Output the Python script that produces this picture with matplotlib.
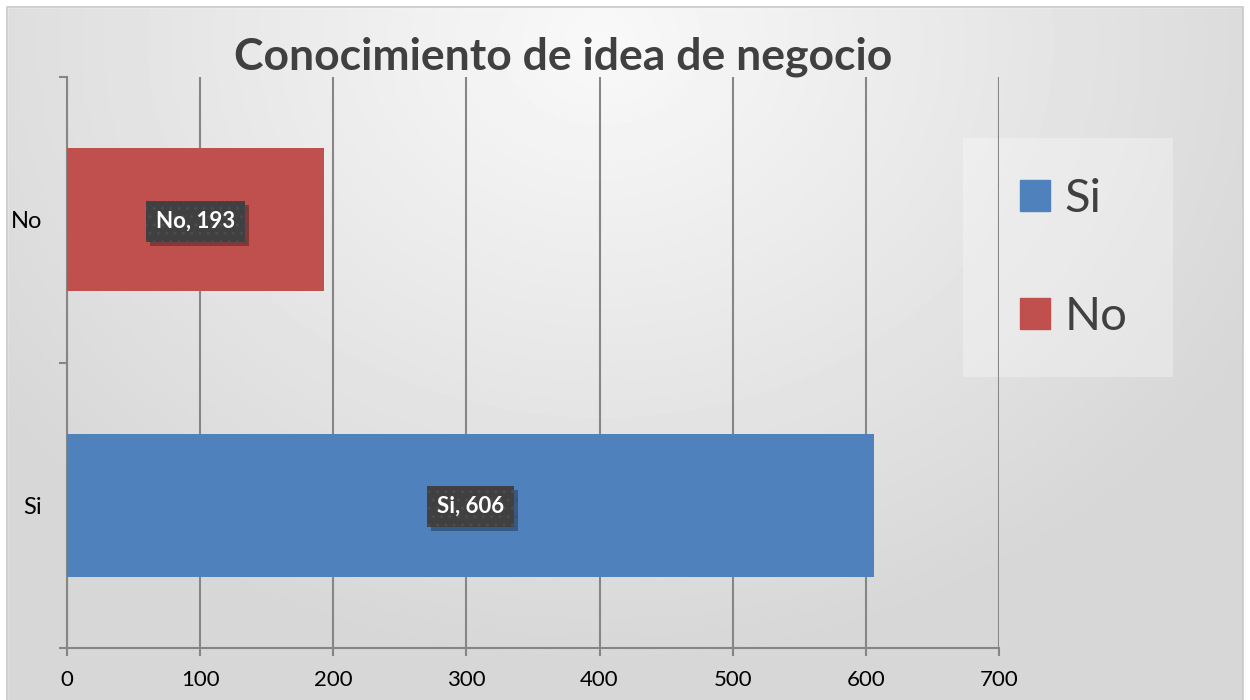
import numpy as np
import matplotlib.pyplot as plt
import matplotlib.patheffects as pe
from matplotlib.patches import Rectangle, Patch

# chart data
categories = ["Si", "No"]
values = [606, 193]
colors = ["#4f81bd", "#c0504d"]
x_ticks = [0, 100, 200, 300, 400, 500, 600, 700]
title = "Conocimiento de idea de negocio"

plt.rcParams['font.family'] = ['Lato', 'DejaVu Sans']

fig = plt.figure(figsize=(12.5, 7), dpi=100)

# background: soft radial gradient inside a thin border
bg = fig.add_axes([0, 0, 1, 1], zorder=-10)
yy, xx = np.mgrid[0:700, 0:1250]
r = np.sqrt(((xx - 600) / 900.0) ** 2 + ((yy - 40) / 750.0) ** 2)
shade = np.clip(0.975 - 0.16 * r, 0.84, 0.98)
bg.imshow(shade, cmap='gray', vmin=0, vmax=1, extent=[0, 1250, 700, 0], aspect='auto')
bg.add_patch(Rectangle((0, 0), 7, 700, color='white'))
bg.add_patch(Rectangle((0, 0), 1250, 7, color='white'))
bg.add_patch(Rectangle((1243, 0), 7, 700, color='white'))
bg.plot([7, 7, 1243, 1243], [700, 7, 7, 700], color='#c8c8c8', lw=1.2)
bg.set_xlim(0, 1250)
bg.set_ylim(700, 0)
bg.axis('off')

ax = fig.add_axes([67 / 1250, 52 / 700, 932 / 1250, 571 / 700])
ax.set_facecolor('none')

ypos = np.arange(len(categories))
ax.barh(ypos, values, height=0.5, color=colors, zorder=3)

ax.set_xlim(0, 700)
ax.set_ylim(-0.5, 1.5)
ax.set_xticks(x_ticks)
ax.set_xticklabels([str(t) for t in x_ticks], fontsize=16, color='black')
ax.set_yticks(ypos)
ax.set_yticklabels(categories, fontsize=17, color='black')
ax.set_yticks([-0.5, 0.5, 1.5], minor=True)
ax.tick_params(axis='y', which='major', length=0, pad=18)
ax.tick_params(axis='y', which='minor', length=6, color='#868686', width=1.5)
ax.tick_params(axis='x', length=6, color='#868686', width=1.5, pad=10)

ax.grid(axis='x', color='#868686', lw=1.5, zorder=1)
for s in ['top', 'right']:
    ax.spines[s].set_visible(False)
for s in ['left', 'bottom']:
    ax.spines[s].set_color('#868686')
    ax.spines[s].set_linewidth(1.5)

# data labels with dark box and soft shadow
for y, v, c in zip(ypos, values, categories):
    t = ax.text(v / 2, y - 0.005, f"{c}, {v}", ha='center', va='center', fontsize=16,
                fontweight='bold', color='white', zorder=5,
                bbox=dict(boxstyle='square,pad=0.45', fc='#404040', ec='#4c4c4c',
                          lw=0, hatch='..'))
    t.get_bbox_patch().set_path_effects(
        [pe.SimplePatchShadow(offset=(3, -3), shadow_rgbFace='black', alpha=0.3),
         pe.Normal()])

# legend panel
fig.patches.append(Rectangle((963 / 1250, 1 - 377 / 700), 210 / 1250, 239 / 700,
                             transform=fig.transFigure, fc='white', ec='none',
                             alpha=0.3, zorder=-5))
handles = [Patch(color=c) for c in colors]
fig.legend(handles, categories, loc='center left',
           bbox_to_anchor=(1020 / 1250, 1 - 258 / 700), bbox_transform=fig.transFigure,
           frameon=False, fontsize=34, handlelength=0.64, handleheight=0.64,
           handletextpad=0.3, labelspacing=1.6, borderpad=0, borderaxespad=0,
           labelcolor='#404040')

fig.text(563 / 1250, 1 - 57 / 700, title, ha='center', va='center',
         fontsize=32, fontweight='bold', color='#404040')

fig.savefig('out.png', dpi=100)
